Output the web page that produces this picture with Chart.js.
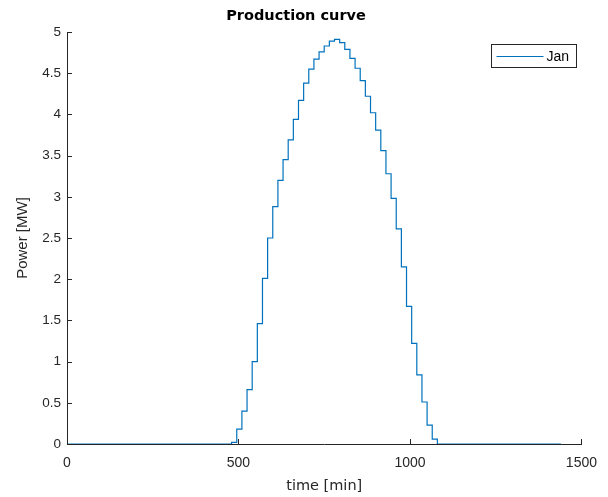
<!DOCTYPE html>
<html><head><meta charset="utf-8">
<script src="https://cdn.jsdelivr.net/npm/chart.js@4/dist/chart.umd.min.js"></script>
<style>html,body{margin:0;padding:0;background:#fff}</style>
</head><body>
<canvas id="c" width="608" height="497" style="display:block;width:608px;height:497px"></canvas>
<script>
// time [min] at which each 15-min production level starts (stairs)
const timeMin = [0, 480, 495, 510, 525, 540, 555, 570, 585, 600, 615, 630, 645, 660, 675, 690, 705, 720, 735, 750, 765, 780,
  795, 810, 825, 840, 855, 870, 885, 900, 915, 930, 945, 960, 975, 990, 1005, 1020, 1035, 1050, 1065, 1080, 1440];
// Power [MW], series "Jan"
const powerJan = [0, 0.02, 0.18, 0.40, 0.66, 1.00, 1.46, 2.01, 2.50, 2.88, 3.20, 3.45, 3.69, 3.94, 4.17, 4.38, 4.55, 4.67, 4.76, 4.83, 4.89, 4.91,
  4.87, 4.79, 4.68, 4.56, 4.41, 4.22, 4.02, 3.81, 3.56, 3.28, 2.98, 2.61, 2.15, 1.67, 1.22, 0.84, 0.51, 0.23, 0.06, 0, 0];
const seriesLabel = 'Jan';
const xTicks = [0, 500, 1000, 1500];
const yTicks = [0, 0.5, 1, 1.5, 2, 2.5, 3, 3.5, 4, 4.5, 5];

const AX = '#262626';
const FONT = "'Liberation Sans', Arial, Helvetica, sans-serif";
const WIDE = "'DejaVu Sans', 'Liberation Sans', sans-serif";

const inwardTicks = {
  id: 'inwardTicks',
  afterDatasetsDraw(chart) {
    const {ctx, chartArea: a, scales: {x, y}} = chart;
    ctx.save();
    ctx.strokeStyle = AX;
    ctx.lineWidth = 1;
    ctx.beginPath();
    xTicks.forEach(v => { const p = Math.round(x.getPixelForValue(v)) + 0.5; ctx.moveTo(p, a.bottom); ctx.lineTo(p, a.bottom - 5); });
    yTicks.forEach(v => { const p = Math.round(y.getPixelForValue(v)) + 0.5; ctx.moveTo(a.left, p); ctx.lineTo(a.left + 5, p); });
    ctx.stroke();
    ctx.restore();
  }
};

const boxLegend = {
  id: 'boxLegend',
  afterDraw(chart) {
    const {ctx} = chart;
    const ds = chart.data.datasets[0];
    const bx = 491.5, by = 44.5, bw = 85, bh = 23;
    ctx.save();
    ctx.fillStyle = '#fff';
    ctx.fillRect(bx, by, bw, bh);
    ctx.strokeStyle = AX;
    ctx.lineWidth = 1;
    ctx.strokeRect(bx, by, bw, bh);
    ctx.strokeStyle = ds.borderColor;
    ctx.lineWidth = 1.2;
    ctx.beginPath();
    ctx.moveTo(bx + 5, by + 12);
    ctx.lineTo(bx + 52, by + 12);
    ctx.stroke();
    ctx.fillStyle = '#000';
    ctx.font = '14px ' + FONT;
    ctx.textBaseline = 'middle';
    ctx.textAlign = 'left';
    ctx.fillText(ds.label, bx + 55, by + 12.5);
    ctx.restore();
  }
};

const fmt = v => String(v);

new Chart(document.getElementById('c'), {
  type: 'line',
  data: {
    datasets: [{
      label: seriesLabel,
      data: timeMin.map((t, i) => ({x: t, y: powerJan[i]})),
      borderColor: '#0072BD',
      borderWidth: 1.2,
      pointRadius: 0,
      stepped: 'before',
      fill: false
    }]
  },
  options: {
    responsive: false,
    animation: false,
    devicePixelRatio: 1,
    layout: {padding: {left: 0, right: 16, top: 0, bottom: 0}},
    plugins: {
      legend: {display: false},
      tooltip: {enabled: false},
      title: {
        display: true, text: 'Production curve', color: '#000',
        font: {family: WIDE, size: 14.5, weight: 'bold', lineHeight: 1.2},
        padding: {top: 8, bottom: 6.6}
      }
    },
    scales: {
      x: {
        type: 'linear', min: 0, max: 1500,
        afterBuildTicks(s) { s.ticks = xTicks.map(v => ({value: v})); },
        afterFit(s) { s.height = 53; },
        grid: {display: true, drawOnChartArea: false, drawTicks: false},
        border: {display: true, color: AX, width: 1},
        ticks: {color: AX, padding: 11, maxRotation: 0, autoSkip: false, callback: fmt, font: {family: FONT, size: 14}},
        title: {display: true, text: 'time [min]', color: AX, font: {family: WIDE, size: 14.5}, padding: {top: 0, bottom: 2}}
      },
      y: {
        type: 'linear', min: 0, max: 5,
        afterBuildTicks(s) { s.ticks = yTicks.map(v => ({value: v})); },
        afterFit(s) { s.width = 67; },
        grid: {display: true, drawOnChartArea: false, drawTicks: false},
        border: {display: true, color: AX, width: 1},
        ticks: {color: AX, padding: 6, autoSkip: false, callback: fmt, font: {family: FONT, size: 13.5}},
        title: {display: true, text: 'Power [MW]', color: AX, font: {family: FONT, size: 15}, padding: {top: 14, bottom: 0}}
      }
    }
  },
  plugins: [inwardTicks, boxLegend]
});
</script>
</body></html>
